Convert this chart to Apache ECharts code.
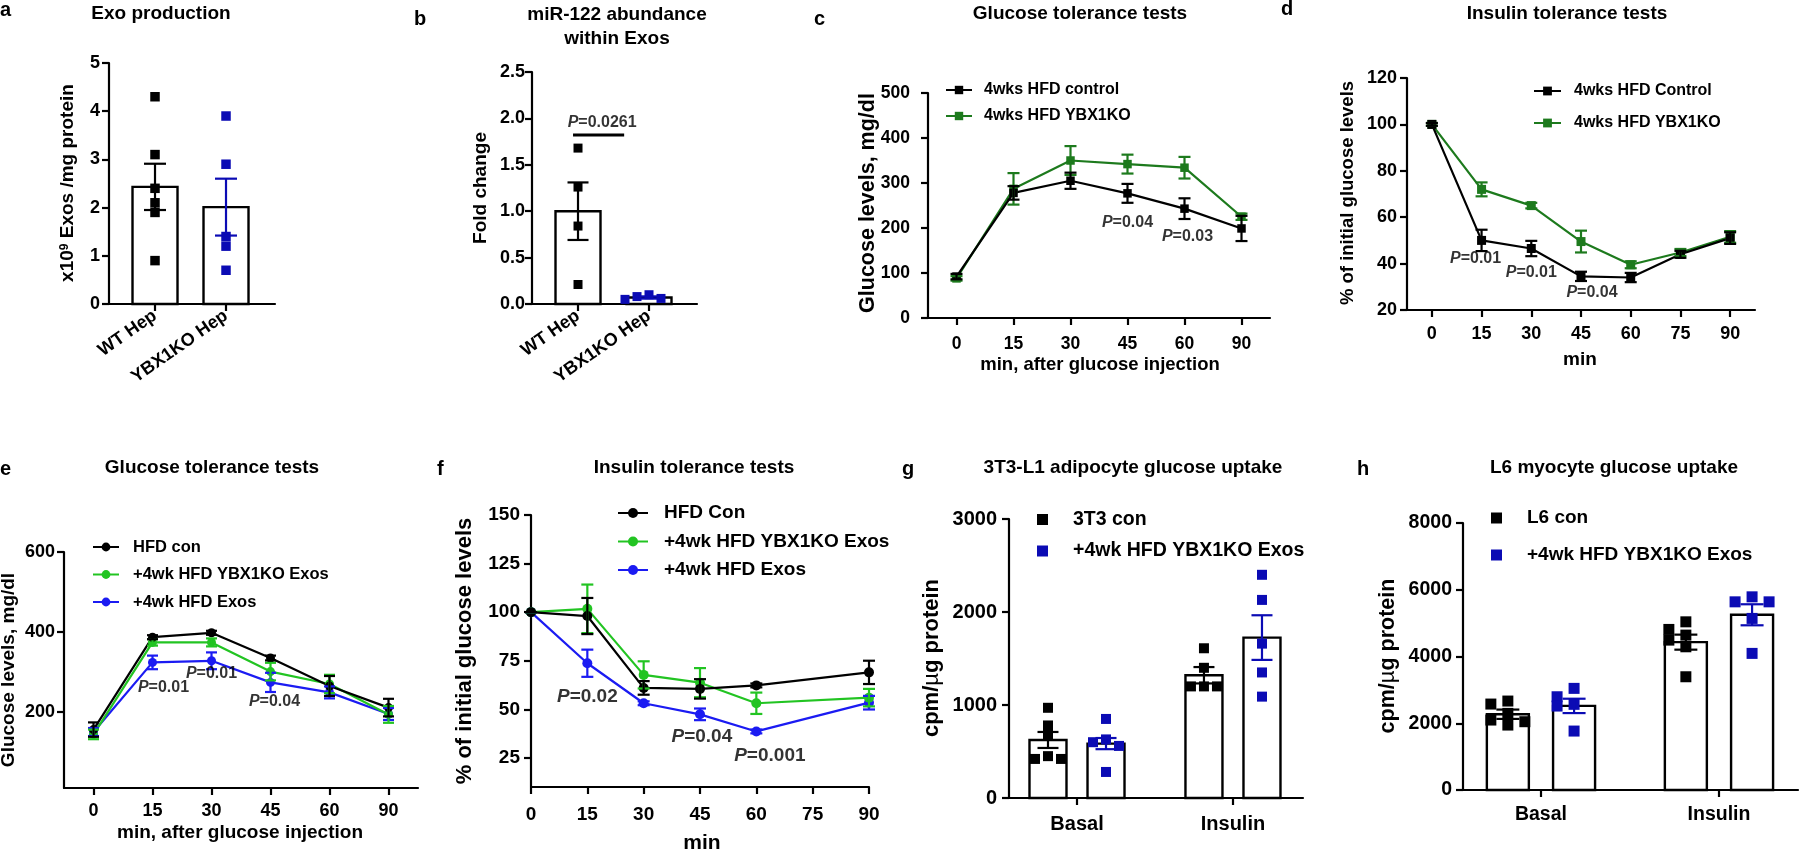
<!DOCTYPE html>
<html><head><meta charset="utf-8">
<script src="https://cdn.jsdelivr.net/npm/echarts@6/dist/echarts.min.js"></script>
<style>html,body{margin:0;padding:0;background:#fff}#chart{width:1800px;height:851px}</style>
</head><body><div id="chart"></div>
<script>
// ---------------- data ----------------
const aCategories = ['WT Hep', 'YBX1KO Hep'];
const aMean = [2.43, 2.01];
const aSem = [0.48, 0.59];
const aWT = [4.3, 3.1, 2.4, 2.1, 1.9, 0.9];
const aKO = [3.9, 2.9, 1.4, 1.2, 0.7];

const bCategories = ['WT Hep', 'YBX1KO Hep'];
const bMean = [1.0, 0.07];
const bSem = [0.31, 0.012];
const bWT = [1.68, 1.26, 0.84, 0.21];
const bKO = [0.05, 0.10, 0.06, 0.08];

const cMinutes = ['0', '15', '30', '45', '60', '90'];
const cControl = [92, 278, 305, 277, 243, 199];
const cControlErr = [6, 15, 18, 21, 23, 28];
const cKO = [88, 287, 350, 342, 334, 225];
const cKOErr = [5, 35, 32, 21, 24, 7];

const dMinutes = ['0', '15', '30', '45', '60', '75', '90'];
const dControl = [100, 50, 46.5, 34.5, 34, 44, 51];
const dControlErr = [0.6, 4.6, 3.3, 2, 2, 1.5, 2.5];
const dKO = [100, 72, 65, 49.5, 39.5, 44.8, 51.5];
const dKOErr = [0.6, 3, 1.2, 4.7, 1.5, 1.5, 2.5];

const eMinutes = ['0', '15', '30', '45', '60', '90'];
const eCon = [156, 387, 398, 335, 265, 211];
const eConErr = [18, 5, 5, 6, 25, 22];
const eKO = [144, 374, 374, 301, 270, 194];
const eKOErr = [12, 8, 10, 22, 23, 21];
const eExo = [150, 324, 328, 274, 249, 195];
const eExoErr = [10, 17, 21, 24, 15, 15];
const eYTicks = [200, 400, 600];

const fMinutes = [0, 15, 30, 45, 60, 90];
const fCon = [100, 98, 61, 60.5, 62.3, 69];
const fConErr = [0, 9.3, 3.5, 5, 1, 6];
const fKO = [100, 101.7, 67.7, 63.7, 53.1, 56];
const fKOErr = [0, 12.5, 7, 7.5, 5.5, 4.5];
const fExo = [100, 73.7, 53.1, 47.4, 38.6, 53.4];
const fExoErr = [0, 7, 1, 3, 1, 3.5];
const fYTicks = [25, 50, 75, 100, 125, 150];

const gCategories = ['Basal', 'Insulin'];
const gConMean = [624, 1320];
const gConSem = [86, 88];
const gExoMean = [585, 1725];
const gExoSem = [60, 240];
const gConPoints = [[970, 780, 680, 450, 420, 420], [1610, 1400, 1200, 1200, 1200]];
const gExoPoints = [[850, 630, 600, 560, 280], [2400, 2130, 1660, 1350, 1090]];

const hCategories = ['Basal', 'Insulin'];
const hConMean = [2270, 4430];
const hConSem = [140, 225];
const hExoMean = [2520, 5250];
const hExoSem = [215, 315];
const hConPoints = [[2665, 2575, 2296, 2096, 1946, 2046], [5039, 4811, 4641, 4491, 4291, 3393]];
const hExoPoints = [[3045, 2794, 2567, 2515, 1766], [5788, 5638, 5638, 5141, 4093]];

// annotations (P values) in data coordinates
const bNotes = [{p: '0.0261', x: 0.34, y: 1.96}];
const bBracket = {x0: -0.07, x1: 0.65, y: 1.82};
const cNotes = [{p: '0.04', x: 3, y: 211}, {p: '0.03', x: 4, y: 180, dx: 3}];
const dNotes = [{p: '0.01', x: 1, y: 42, dx: -6}, {p: '0.01', x: 2, y: 36}, {p: '0.04', x: 3, y: 27.7, dx: 11}];
const eNotes = [{p: '0.01', x: 1, y: 262, dx: 11}, {p: '0.01', x: 2, y: 295}, {p: '0.04', x: 3, y: 225, dx: 4}];
const fNotes = [{p: '0.02', x: 15, y: 56.2}, {p: '0.04', x: 45.5, y: 35.6}, {p: '0.001', x: 63.6, y: 26.3}];

// ---------------- styling / layout ----------------
const FONT = '"Liberation Sans", Arial, Helvetica, sans-serif';
const INK = '#000000';
const BLUE_DOT = '#0b0bb4';
const GREEN_DARK = '#1d7a1d';
const GREEN = '#22c422';
const BLUE_LINE = '#1b1bf2';
const GROUP_OFF = 0.186;

const grids = [
  {left: 109, top: 63, width: 166, height: 241},
  {left: 532, top: 72, width: 165, height: 232},
  {left: 928, top: 93, width: 342, height: 225},
  {left: 1407, top: 78, width: 348, height: 232},
  {left: 64, top: 552, width: 354, height: 236},
  {left: 531, top: 515, width: 338, height: 272},
  {left: 1009, top: 519, width: 294, height: 279},
  {left: 1463, top: 523, width: 335, height: 267}
];
const yRanges = [[0, 5], [0, 2.5], [0, 500], [20, 120], [10, 600], [10, 150], [0, 3000], [0, 8000]];

function merge(a, b) {
  const o = Object.assign({}, a);
  for (const k in b) {
    if (b[k] && typeof b[k] === 'object' && !Array.isArray(b[k]) && a[k] && typeof a[k] === 'object') o[k] = Object.assign({}, a[k], b[k]);
    else o[k] = b[k];
  }
  return o;
}
const plain = v => String(v);
function baseAxis(gi, fontSize, margin) {
  return {
    gridIndex: gi,
    axisLine: {show: true, onZero: false, lineStyle: {color: INK, width: 2.2}},
    axisTick: {show: true, length: 7, lineStyle: {color: INK, width: 2.2}},
    axisLabel: {color: INK, fontFamily: FONT, fontWeight: 'bold', fontSize: fontSize, margin: margin},
    splitLine: {show: false}
  };
}
const catFmt = cats => v => cats[Math.round(v)] || '';

const xAxis = [
  merge(baseAxis(0, 18, 10), {type: 'value', min: -0.648, max: 1.69, axisTick: {customValues: [0, 1]}, axisLabel: {customValues: [0, 1], rotate: 35, formatter: catFmt(aCategories)}}),
  merge(baseAxis(1, 18, 10), {type: 'value', min: -0.648, max: 1.676, axisTick: {customValues: [0, 1]}, axisLabel: {customValues: [0, 1], rotate: 35, formatter: catFmt(bCategories)}}),
  merge(baseAxis(2, 17.5, 17), {type: 'category', data: cMinutes, boundaryGap: true, axisTick: {alignWithLabel: true}, axisLabel: {interval: 0}}),
  merge(baseAxis(3, 18, 15), {type: 'category', data: dMinutes, boundaryGap: true, axisTick: {alignWithLabel: true}, axisLabel: {interval: 0}}),
  merge(baseAxis(4, 18, 14), {type: 'category', data: eMinutes, boundaryGap: true, axisTick: {alignWithLabel: true}, axisLabel: {interval: 0}}),
  merge(baseAxis(5, 19, 18), {type: 'value', min: 0, max: 90, interval: 15}),
  merge(baseAxis(6, 20, 16), {type: 'value', min: -0.436, max: 1.449, axisTick: {customValues: [0, 1]}, axisLabel: {customValues: [0, 1], formatter: catFmt(gCategories)}}),
  merge(baseAxis(7, 19.5, 15), {type: 'value', min: -0.438, max: 1.444, axisTick: {customValues: [0, 1]}, axisLabel: {customValues: [0, 1], formatter: catFmt(hCategories)}})
];
const yAxis = [
  merge(baseAxis(0, 18, 9), {type: 'value', min: 0, max: 5, interval: 1, axisLabel: {formatter: plain}}),
  merge(baseAxis(1, 18, 7), {type: 'value', min: 0, max: 2.5, interval: 0.5, axisLabel: {formatter: v => v.toFixed(1)}}),
  merge(baseAxis(2, 17.5, 18), {type: 'value', min: 0, max: 500, interval: 100, axisLabel: {formatter: plain}}),
  merge(baseAxis(3, 18, 10), {type: 'value', min: 20, max: 120, interval: 20, axisLabel: {formatter: plain}}),
  merge(baseAxis(4, 18, 9), {type: 'value', min: 10, max: 600, axisTick: {customValues: eYTicks}, axisLabel: {customValues: eYTicks, formatter: plain}}),
  merge(baseAxis(5, 19, 11), {type: 'value', min: 10, max: 150, axisTick: {customValues: fYTicks}, axisLabel: {customValues: fYTicks, formatter: plain}}),
  merge(baseAxis(6, 20, 12), {type: 'value', min: 0, max: 3000, interval: 1000, axisLabel: {formatter: plain}}),
  merge(baseAxis(7, 19.5, 11), {type: 'value', min: 0, max: 8000, interval: 2000, axisLabel: {formatter: plain}})
];

// ---------------- renderers ----------------
function barRenderer(widthPx) {
  return function (params, api) {
    const x = api.value(0), v = api.value(1);
    const base = api.coord([x, 0]), top = api.coord([x, v]);
    return {type: 'rect', shape: {x: base[0] - widthPx / 2, y: top[1], width: widthPx, height: base[1] - top[1]},
      style: {fill: '#ffffff', stroke: INK, lineWidth: 2.4}};
  };
}
function errRenderer(cap, colors, lw) {
  return function (params, api) {
    const x = api.value(0), v = api.value(1), e = api.value(2);
    const hi = api.coord([x, v + e]), lo = api.coord([x, v - e]);
    const st = {stroke: colors[params.dataIndex % colors.length], lineWidth: lw};
    return {type: 'group', children: [
      {type: 'line', shape: {x1: hi[0], y1: hi[1], x2: lo[0], y2: lo[1]}, style: st},
      {type: 'line', shape: {x1: hi[0] - cap / 2, y1: hi[1], x2: hi[0] + cap / 2, y2: hi[1]}, style: st},
      {type: 'line', shape: {x1: lo[0] - cap / 2, y1: lo[1], x2: lo[0] + cap / 2, y2: lo[1]}, style: st}
    ]};
  };
}
function swarmOffsets(vals, ppu, size, step) {
  const order = vals.map((v, i) => i).sort((a, b) => vals[b] - vals[a]);
  const placed = [], off = new Array(vals.length).fill(0);
  const cands = [0, -1, 1, -2, 2, -3, 3];
  order.forEach(i => {
    for (const c of cands) {
      if (placed.every(p => p.c !== c || Math.abs(p.v - vals[i]) * ppu >= size * 0.8)) {
        placed.push({c: c, v: vals[i]}); off[i] = c * step; break;
      }
    }
  });
  return off;
}
function dotData(groups, gi, size, step) {
  const g = grids[gi], r = yRanges[gi];
  const ppu = g.height / (r[1] - r[0]);
  const out = [];
  groups.forEach(gr => {
    const offs = swarmOffsets(gr.vals, ppu, size, step);
    gr.vals.forEach((v, i) => out.push({value: [gr.x, v], symbolOffset: [offs[i], 0]}));
  });
  return out;
}
function barSeries(gi, data, w) {
  return {type: 'custom', xAxisIndex: gi, yAxisIndex: gi, data: data, renderItem: barRenderer(w), z: 2, silent: true};
}
function errSeries(gi, data, colors, cap, lw) {
  return {type: 'custom', xAxisIndex: gi, yAxisIndex: gi, data: data, renderItem: errRenderer(cap, colors, lw || 2.2), z: 5, silent: true};
}
function dotSeries(name, gi, data, color, size) {
  return {type: 'scatter', name: name, xAxisIndex: gi, yAxisIndex: gi, data: data, symbol: 'rect', symbolSize: size,
    itemStyle: {color: color, opacity: 1}, z: 3, silent: true};
}
function lineSeries(name, gi, data, color, symbol, size) {
  return {type: 'line', name: name, xAxisIndex: gi, yAxisIndex: gi, data: data, symbol: symbol, symbolSize: size,
    showSymbol: true, itemStyle: {color: color, opacity: 1}, lineStyle: {color: color, width: 2.2}, z: 3, silent: true};
}
function noteSeries(gi, notes, fontSize) {
  return {type: 'scatter', xAxisIndex: gi, yAxisIndex: gi, symbolSize: 1, itemStyle: {color: 'rgba(0,0,0,0)'}, silent: true, z: 8,
    data: notes.map(n => ({value: [n.x, n.y], label: {formatter: '{i|P}=' + n.p, offset: [n.dx || 0, 0]}})),
    label: {show: true, position: 'inside', color: INK, fontFamily: FONT, fontWeight: 'bold', fontSize: fontSize,
      rich: {i: {fontStyle: 'italic', fontWeight: 'bold', fontFamily: FONT, fontSize: fontSize, color: INK}}}};
}
const withErr = (vals, errs) => vals.map((v, i) => [i, v, errs[i]]);
const withErrX = (xs, vals, errs) => vals.map((v, i) => [xs[i], v, errs[i]]);

const series = [];
// a
series.push(barSeries(0, aMean.map((m, i) => [i, m]), 45));
series.push(dotSeries('a WT', 0, dotData([{x: 0, vals: aWT}], 0, 9.5, 13), INK, 9.5));
series.push(dotSeries('a KO', 0, dotData([{x: 1, vals: aKO}], 0, 9.5, 13), BLUE_DOT, 9.5));
series.push(errSeries(0, aMean.map((m, i) => [i, m, aSem[i]]), [INK, BLUE_DOT], 22));
// b
series.push(barSeries(1, bMean.map((m, i) => [i, m]), 45));
series.push(dotSeries('b WT', 1, dotData([{x: 0, vals: bWT}], 1, 9, 12), INK, 9));
series.push(dotSeries('b KO', 1, dotData([{x: 1, vals: bKO}], 1, 9, 12), BLUE_DOT, 9));
series.push(errSeries(1, bMean.map((m, i) => [i, m, bSem[i]]), [INK, BLUE_DOT], 21));
series.push({type: 'line', xAxisIndex: 1, yAxisIndex: 1, data: [[bBracket.x0, bBracket.y], [bBracket.x1, bBracket.y]],
  symbol: 'none', lineStyle: {color: INK, width: 3}, silent: true, z: 4});
series.push(noteSeries(1, bNotes, 16));
// c
series.push(lineSeries('4wks HFD YBX1KO', 2, cKO, GREEN_DARK, 'rect', 8.5));
series.push(errSeries(2, withErr(cKO, cKOErr), [GREEN_DARK], 12));
series.push(lineSeries('4wks HFD control', 2, cControl, INK, 'rect', 8.5));
series.push(errSeries(2, withErr(cControl, cControlErr), [INK], 12));
series.push(noteSeries(2, cNotes, 16));
// d
series.push(lineSeries('4wks HFD YBX1KO', 3, dKO, GREEN_DARK, 'rect', 9));
series.push(errSeries(3, withErr(dKO, dKOErr), [GREEN_DARK], 12));
series.push(lineSeries('4wks HFD Control', 3, dControl, INK, 'rect', 9));
series.push(errSeries(3, withErr(dControl, dControlErr), [INK], 12));
series.push(noteSeries(3, dNotes, 16));
// e
series.push(lineSeries('+4wk HFD Exos', 4, eExo, BLUE_LINE, 'circle', 9));
series.push(errSeries(4, withErr(eExo, eExoErr), [BLUE_LINE], 11));
series.push(lineSeries('+4wk HFD YBX1KO Exos', 4, eKO, GREEN, 'circle', 9));
series.push(errSeries(4, withErr(eKO, eKOErr), [GREEN], 11));
series.push(lineSeries('HFD con', 4, eCon, INK, 'circle', 9));
series.push(errSeries(4, withErr(eCon, eConErr), [INK], 11));
series.push(noteSeries(4, eNotes, 16));
// f
series.push(lineSeries('+4wk HFD Exos', 5, fExo.map((v, i) => [fMinutes[i], v]), BLUE_LINE, 'circle', 10));
series.push(errSeries(5, withErrX(fMinutes, fExo, fExoErr), [BLUE_LINE], 12));
series.push(lineSeries('+4wk HFD YBX1KO Exos', 5, fKO.map((v, i) => [fMinutes[i], v]), GREEN, 'circle', 10));
series.push(errSeries(5, withErrX(fMinutes, fKO, fKOErr), [GREEN], 12));
series.push(lineSeries('HFD Con', 5, fCon.map((v, i) => [fMinutes[i], v]), INK, 'circle', 10));
series.push(errSeries(5, withErrX(fMinutes, fCon, fConErr), [INK], 12));
series.push(noteSeries(5, fNotes, 19));
// g
series.push(barSeries(6, gConMean.map((m, i) => [i - GROUP_OFF, m]).concat(gExoMean.map((m, i) => [i + GROUP_OFF, m])), 37));
series.push(dotSeries('3T3 con', 6, dotData(gConPoints.map((vals, i) => ({x: i - GROUP_OFF, vals: vals})), 6, 10, 13), INK, 10));
series.push(dotSeries('+4wk HFD YBX1KO Exos ', 6, dotData(gExoPoints.map((vals, i) => ({x: i + GROUP_OFF, vals: vals})), 6, 10, 13), BLUE_DOT, 10));
series.push(errSeries(6, gConMean.map((m, i) => [i - GROUP_OFF, m, gConSem[i]]), [INK], 21));
series.push(errSeries(6, gExoMean.map((m, i) => [i + GROUP_OFF, m, gExoSem[i]]), [BLUE_DOT], 21));
// h
series.push(barSeries(7, hConMean.map((m, i) => [i - GROUP_OFF, m]).concat(hExoMean.map((m, i) => [i + GROUP_OFF, m])), 42));
series.push(dotSeries('L6 con', 7, dotData(hConPoints.map((vals, i) => ({x: i - GROUP_OFF, vals: vals})), 7, 11, 17), INK, 11));
series.push(dotSeries('+4wk HFD YBX1KO Exos ', 7, dotData(hExoPoints.map((vals, i) => ({x: i + GROUP_OFF, vals: vals})), 7, 11, 17), BLUE_DOT, 11));
series.push(errSeries(7, hConMean.map((m, i) => [i - GROUP_OFF, m, hConSem[i]]), [INK], 23));
series.push(errSeries(7, hExoMean.map((m, i) => [i + GROUP_OFF, m, hExoSem[i]]), [BLUE_DOT], 23));

// ---------------- legends ----------------
function legend(names, left, top, iw, ih, gap, fs, pad) {
  return {data: names, left: left, top: top, orient: 'vertical', itemWidth: iw, itemHeight: ih, itemGap: gap, padding: 0,
    selectedMode: false, textStyle: {fontFamily: FONT, fontWeight: 'bold', fontSize: fs, color: INK, padding: [0, 0, 0, pad]}};
}
const legends = [
  legend(['4wks HFD control', '4wks HFD YBX1KO'], 945, 82, 26, 10.5, 10, 16, 7),
  legend(['4wks HFD Control', '4wks HFD YBX1KO'], 1533, 83, 27, 11, 16, 16, 8),
  legend(['HFD con', '+4wk HFD YBX1KO Exos', '+4wk HFD Exos'], 92, 538.5, 26, 11, 10.5, 16.5, 9),
  legend(['HFD Con', '+4wk HFD YBX1KO Exos', '+4wk HFD Exos'], 617, 503.5, 30, 12.5, 9.5, 19, 11),
  Object.assign(legend(['3T3 con', '+4wk HFD YBX1KO Exos '], 1037, 509.5, 11, 11, 11.5, 19.5, 20), {icon: 'rect'}),
  Object.assign(legend(['L6 con', '+4wk HFD YBX1KO Exos '], 1491, 508.5, 11, 11, 18, 19, 20), {icon: 'rect'})
];

// ---------------- texts ----------------
function txt(t, x, y, size, rot, align, rich) {
  return {type: 'text', x: x, y: y, rotation: rot || 0, silent: true, z: 20,
    style: {text: t, fill: INK, fontFamily: FONT, fontWeight: 'bold', fontSize: size,
      align: align || 'center', textAlign: align || 'center', verticalAlign: 'middle', textVerticalAlign: 'middle', rich: rich}};
}
const R = Math.PI / 2;
const supRich = {s: {fontFamily: FONT, fontWeight: 'bold', fontSize: 12, fill: INK, verticalAlign: 'top'}};
const muRich = {m: {fontFamily: FONT, fontWeight: 'normal', fontSize: 22, fill: INK}};
const texts = [
  txt('a', 0, 10, 20, 0, 'left'), txt('b', 414, 19, 20, 0, 'left'), txt('c', 814, 19, 20, 0, 'left'),
  txt('d', 1281, 9, 20, 0, 'left'), txt('e', 0, 469, 20, 0, 'left'), txt('f', 437, 469, 20, 0, 'left'),
  txt('g', 902, 469, 20, 0, 'left'), txt('h', 1357, 469, 20, 0, 'left'),
  txt('Exo production', 161, 14, 19), txt('miR-122 abundance', 617, 15, 19), txt('within Exos', 617, 38.5, 19),
  txt('Glucose tolerance tests', 1080, 14, 19), txt('Insulin tolerance tests', 1567, 14, 19),
  txt('Glucose tolerance tests', 212, 468, 19), txt('Insulin tolerance tests', 694, 468, 19),
  txt('3T3-L1 adipocyte glucose uptake', 1133, 468, 19), txt('L6 myocyte glucose uptake', 1614, 468, 19),
  txt('x10{s|9} Exos /mg protein', 68, 183, 19, R, 'center', supRich),
  txt('Fold change', 481, 188, 19, R),
  txt('Glucose levels, mg/dl', 868, 203, 21.5, R),
  txt('% of initial glucose levels', 1348, 193, 18.5, R),
  txt('Glucose levels, mg/dl', 9, 670, 19, R),
  txt('% of initial glucose levels', 465, 651, 22, R),
  txt('cpm/{m|µ}g protein', 932, 658, 22, R, 'center', muRich),
  txt('cpm/{m|µ}g protein', 1388, 656, 21.5, R, 'center', muRich),
  txt('min, after glucose injection', 1100, 364.5, 18.5),
  txt('min', 1580, 360, 19),
  txt('min, after glucose injection', 240, 833, 19),
  txt('min', 702, 843, 21)
];

const chart = echarts.init(document.getElementById('chart'), null, {renderer: 'canvas'});
chart.setOption({
  backgroundColor: '#ffffff',
  animation: false,
  grid: grids.map(g => Object.assign({containLabel: false}, g)),
  xAxis: xAxis,
  yAxis: yAxis,
  legend: legends,
  series: series,
  graphic: {elements: texts}
});
</script></body></html>
